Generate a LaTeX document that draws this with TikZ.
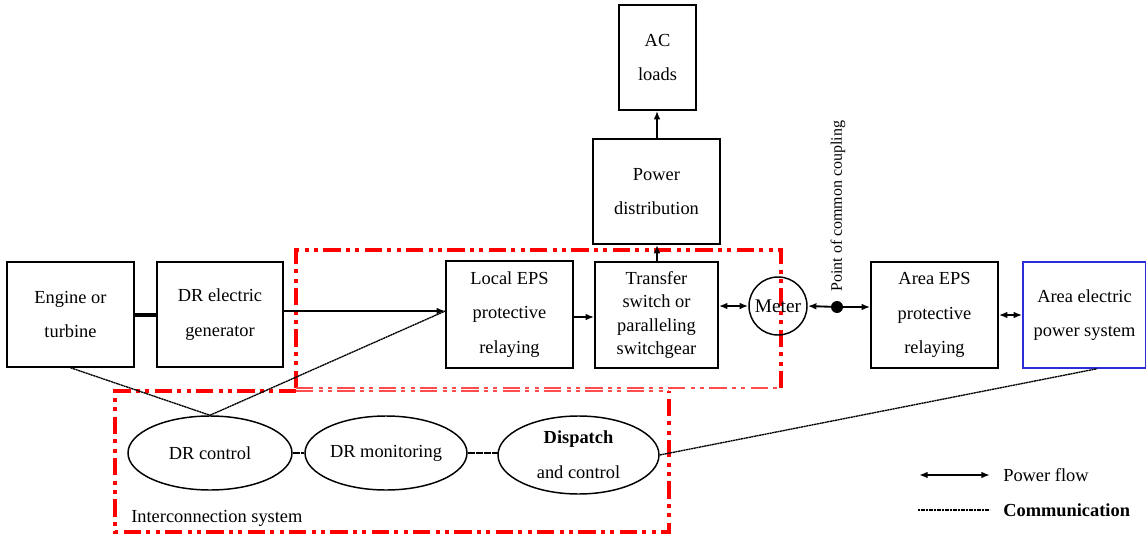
\documentclass[tikz,border=0pt]{standalone}
\usepackage{fontspec}
\setmainfont{Liberation Serif}
\usetikzlibrary{arrows.meta,shapes.geometric}
\definecolor{rdc}{RGB}{255,0,0}
\definecolor{bluebox}{RGB}{45,45,215}
\begin{document}
\begin{tikzpicture}[x=0.75pt,y=-0.75pt,
  box/.style={draw,line width=1.1pt,align=center,inner sep=0pt,font=\fontsize{13.8}{26}\selectfont},
  ell/.style={draw,ellipse,line width=1.1pt,align=center,inner sep=0pt,font=\fontsize{13.8}{26}\selectfont},
  pf/.style={line width=1.4pt,-{Latex[length=6.5pt,width=5pt]}},
  pfd/.style={line width=1.4pt,{Latex[length=6.5pt,width=5pt]}-{Latex[length=6.5pt,width=5pt]}},
  comm/.style={line width=1pt,dash pattern=on 1.6pt off 0.4pt},
  redbox/.style={rdc,line width=3pt,dash pattern=on 13pt off 4pt on 3pt off 4pt on 3pt off 4pt},
  redthin/.style={rdc!70,line width=0.9pt,dash pattern=on 13pt off 4pt on 3pt off 4pt on 3pt off 4pt},
  lbl/.style={font=\fontsize{13.8}{17}\selectfont,inner sep=0pt}
]
\useasboundingbox (0,0) rectangle (1146,535);

% red dash-dot boundaries
\draw[redbox] (296,388) -- (296,250) -- (781,250) -- (781,388);
\draw[redthin] (296,388) -- (781,388);
\draw[redbox] (296,391) -- (115,391) -- (115,532) -- (669,532) -- (669,391);
\draw[redthin] (296,391) -- (669,391);

% boxes
\node[box,minimum width=95.25pt,minimum height=78.75pt] (eng) at (70.5,314.5) {Engine or\\turbine};
\node[box,minimum width=94.5pt,minimum height=78.75pt] (gen) at (220,314.5) {DR electric\\generator};
\node[box,minimum width=95.25pt,minimum height=80.25pt] (leps) at (509.5,314.5) {Local EPS\\protective\\relaying};
\node[box,minimum width=92.25pt,minimum height=79.5pt,font=\fontsize{13.8}{17.5}\selectfont] (tsw) at (656.5,315) {Transfer\\switch or\\paralleling\\switchgear};
\node[box,minimum width=95.25pt,minimum height=78.75pt] (pd) at (656.5,191.5) {Power\\distribution};
\node[box,minimum width=57.75pt,minimum height=78.75pt] (ac) at (657.5,57.5) {AC\\loads};
\node[box,minimum width=95.25pt,minimum height=79.5pt] (aeps) at (934.5,315) {Area EPS\\protective\\relaying};
\node[box,draw=bluebox,minimum width=92.25pt,minimum height=79.5pt] (aelec) at (1084.5,315) {Area electric\\power system};
\node[box,circle,minimum size=43.5pt,font=\fontsize{14.5}{17}\selectfont] (meter) at (778,306) {Meter};
\node[circle,fill=black,inner sep=0pt,minimum size=9pt] (pcc) at (837,307) {};
\node[lbl,rotate=90,anchor=west,font=\fontsize{12}{14}\selectfont] (pcctxt) at (838,292) {Point of common coupling};

% ellipses
\node[ell,minimum width=123pt,minimum height=55.5pt] (drc) at (210,453) {DR control};
\node[ell,minimum width=121.5pt,minimum height=55.5pt] (drm) at (386,453) {DR monitoring};
\node[ell,minimum width=120.75pt,minimum height=58.5pt] (dis) at (578.5,455) {\textbf{Dispatch}\\and control};
\node[lbl,anchor=west] (ics) at (131,518) {Interconnection system};

% helper rows / column
\coordinate (rowa) at (0,311);
\coordinate (rowb) at (0,317);
\coordinate (rowc) at (0,315);
\coordinate (col) at (657,0);

% power flow
\draw[line width=3pt] (eng.east |- rowc) -- (gen.west |- rowc);
\draw[pf] (gen.east |- rowa) -- (leps.west |- rowa);
\draw[pf] (leps.east |- rowb) -- (tsw.west |- rowb);
\draw[pfd] (tsw.east |- meter) -- (meter.west);
\draw[pf] (pcc.center) -- (meter.east);
\draw[pf] (pcc.center) -- (aeps.west |- pcc);
\draw[pfd] (aeps.east) -- (aelec.west);
\draw[pf] (tsw.north -| col) -- (pd.south -| col);
\draw[pf] (pd.north -| col) -- (ac.south -| col);

% communication
\draw[comm] (eng.south) -- (drc.north);
\draw[comm] (drc.north) -- (leps.west |- rowa);
\draw[comm] (drc.east) -- (drm.west);
\draw[comm] (drm.east) -- (dis.west |- drm);
\draw[comm] (dis.east) -- ([xshift=9.4pt]aelec.south);

% legend
\coordinate (l1a) at (919,475);
\coordinate (l1b) at (990,475);
\coordinate (l2a) at (918,510);
\coordinate (l2b) at (990,510);
\draw[pfd] (l1a) -- (l1b);
\node[lbl,anchor=west] (lpf) at (1003,475) {Power flow};
\draw[comm] (l2a) -- (l2b);
\node[lbl,anchor=west] (lcm) at (1003,510) {\textbf{Communication}};
\end{tikzpicture}
\end{document}
